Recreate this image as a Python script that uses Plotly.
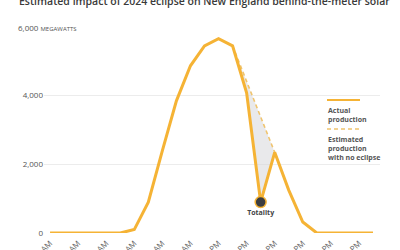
import plotly.graph_objects as go

hours = list(range(24))
actual_mw = [0, 0, 0, 0, 0, 0, 100, 900, 2400, 3850, 4870, 5450, 5660, 5450,
             4080, 900, 2350, 1250, 320, 0, 0, 0, 0, 0]
est_hours = [13, 14, 15, 16]
estimated_mw = [5450, 4400, 3370, 2350]
actual_seg = [actual_mw[h] for h in est_hours]
totality_hour = 15
tick_hours = list(range(0, 24, 2))
tick_labels = ["12 AM", "2 AM", "4 AM", "6 AM", "8 AM", "10 AM",
               "12 PM", "2 PM", "4 PM", "6 PM", "8 PM", "10 PM"]
y_ticks = [0, 2000, 4000, 6000]
y_labels = ["0", "2,000", "4,000", ""]

LINE = "#F5B335"
DASH = "#F0C46E"
FONT = "Open Sans"

fig = go.Figure()
# gray gap between actual and estimated
fig.add_trace(go.Scatter(x=est_hours, y=actual_seg, mode="lines",
                         line=dict(width=0, color="rgba(0,0,0,0)"),
                         hoverinfo="skip", showlegend=False))
fig.add_trace(go.Scatter(x=est_hours, y=estimated_mw, mode="lines",
                         fill="tonexty", fillcolor="rgba(215,215,218,0.55)",
                         line=dict(color=DASH, width=1.6, dash="4px,3px"),
                         showlegend=False))
fig.add_trace(go.Scatter(x=hours, y=actual_mw, mode="lines",
                         line=dict(color=LINE, width=3), showlegend=False))
fig.add_trace(go.Scatter(x=[totality_hour], y=[actual_mw[totality_hour]],
                         mode="markers+text", text=["Totality"],
                         textposition="bottom center",
                         textfont=dict(family=FONT, size=7, color="#444", weight="bold"),
                         marker=dict(size=11, color="#3b3d40",
                                     line=dict(color=LINE, width=1.5)),
                         showlegend=False))

L, R, T, B = 44, 20, 27, 17
W, H = 400, 250
pw, ph = W - L - R, H - T - B

def px(x):
    return (x - L) / pw

def py(y):
    return (H - B - y) / ph

annotations = [
    dict(text="Estimated impact of 2024 eclipse on New England behind-the-meter solar",
         xref="paper", yref="paper", x=px(17), y=py(10), xanchor="left", yanchor="bottom",
         showarrow=False, font=dict(family=FONT, size=10.5, color="#3a3a3a", weight=600)),
    dict(text="6,000 <span style='font-size:6px'>MEGAWATTS</span>",
         xref="paper", yref="paper", x=px(16), y=py(27), xanchor="left", yanchor="middle",
         showarrow=False, bgcolor="white", borderpad=1,
         font=dict(family=FONT, size=8, color="#555")),
    dict(text="Actual<br>production",
         xref="paper", yref="paper", x=px(326), y=py(104), xanchor="left", yanchor="top",
         showarrow=False, align="left",
         font=dict(family=FONT, size=7, color="#555", weight="bold")),
    dict(text="Estimated<br>production<br>with no eclipse",
         xref="paper", yref="paper", x=px(326), y=py(133), xanchor="left", yanchor="top",
         showarrow=False, align="left",
         font=dict(family=FONT, size=7, color="#555", weight="bold")),
]
shapes = [
    dict(type="line", xref="paper", yref="paper", x0=px(327), x1=px(360),
         y0=py(100), y1=py(100), line=dict(color=LINE, width=2)),
    dict(type="line", xref="paper", yref="paper", x0=px(327), x1=px(360),
         y0=py(129), y1=py(129), line=dict(color=DASH, width=1.5, dash="4px,3px")),
]

fig.update_layout(
    width=W, height=H, margin=dict(l=L, r=R, t=T, b=B, autoexpand=False),
    paper_bgcolor="white", plot_bgcolor="white",
    font=dict(family=FONT, size=8, color="#555"),
    annotations=annotations, shapes=shapes,
    xaxis=dict(range=[-0.43, 23.5], tickvals=tick_hours, ticktext=tick_labels,
               tickangle=-45, showgrid=False, zeroline=False, showline=False,
               automargin=False, ticks="", ticklen=0, ticklabelstandoff=3,
               tickfont=dict(size=8, color="#666")),
    yaxis=dict(range=[0, 6000], tickvals=y_ticks, ticktext=y_labels,
               showgrid=True, gridcolor="#ececec", gridwidth=1, automargin=False,
               zeroline=False, showline=False, ticks="",
               tickfont=dict(size=8, color="#555")),
)
fig.write_html("out.html")
